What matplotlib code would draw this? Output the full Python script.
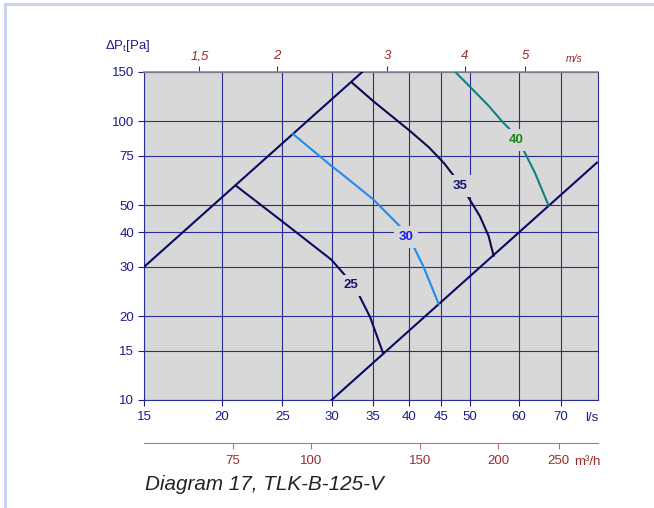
import numpy as np
import matplotlib.pyplot as plt
from matplotlib.lines import Line2D

plt.rcParams["font.family"] = ["Liberation Sans", "DejaVu Sans"]
plt.rcParams["mathtext.fontset"] = "custom"
plt.rcParams["mathtext.rm"] = "Liberation Sans"

# flow [l/s] -> pressure [Pa]
sys_hi_q = [15, 33.6]
sys_hi_p = [30, 150]
sys_lo_q = [30, 80]
sys_lo_p = [10, 71]

c25_q = [21.1, 25.1, 30.0, 31.7, 33.2, 34.6, 36.3]
c25_p = [58.5, 43.4, 31.8, 27.6, 23.8, 19.8, 14.7]
c30_q = [26.0, 30.0, 30.9, 35.0, 38.6, 40.7, 42.1, 44.6]
c30_p = [90.0, 69.0, 65.6, 52.4, 42.0, 35.2, 30.2, 22.0]
c35_q = [32.4, 35.0, 40.1, 43.0, 45.5, 47.4, 49.6, 51.9, 53.6, 54.6]
c35_p = [137.0, 117.9, 92.1, 80.5, 70.5, 62.6, 53.8, 45.6, 38.7, 32.9]
c40_q = [47.4, 50.0, 53.5, 56.6, 58.6, 60.9, 63.6, 66.9]
c40_p = [150.0, 133.0, 114.0, 98.6, 91.3, 79.2, 65.3, 49.8]

labels = ["25", "30", "35", "40"]
label_q = [32.2, 39.5, 48.2, 59.3]
label_p = [25.8, 38.4, 58.5, 85.5]

x_ticks = [15, 20, 25, 30, 35, 40, 45, 50, 60, 70]
y_ticks = [10, 15, 20, 30, 40, 50, 75, 100, 150]
v_ticks = [1.5, 2, 3, 4, 5]
v_labels = ["1,5", "2", "3", "4", "5"]
m3h_ticks = [75, 100, 150, 200, 250]

AREA = np.pi * 0.0625 ** 2  # duct 125 mm

navy = "#1c1c8c"
grid_c = "#2b2b96"
red = "#9a2a2a"
bg = "#d8d8d8"
fs = 9.5

fig = plt.figure(figsize=(6.54, 5.08), dpi=100)
ax = fig.add_axes([144 / 654, 1 - 400 / 508, 454 / 654, 328 / 508])
ax.set_facecolor(bg)
ax.set_xscale("log")
ax.set_yscale("log")
ax.set_xlim(15, 80.3)
ax.set_ylim(10, 150)

ax.set_xticks(x_ticks, [str(t) for t in x_ticks])
ax.set_yticks(y_ticks, [str(t) for t in y_ticks])
ax.minorticks_off()
ax.grid(True, color=grid_c, lw=0.8)
ax.tick_params(axis="both", colors=navy, labelsize=fs, length=4, width=0.8)
ax.tick_params(axis="x", pad=4)
ax.tick_params(axis="y", pad=3)
for s in ["left", "bottom", "right"]:
    ax.spines[s].set_color(grid_c)
ax.spines["top"].set_color("#8a8a8a")
ax.spines["top"].set_linewidth(1.2)

ax.plot(sys_hi_q, sys_hi_p, color="#0a0a66", lw=1.5, zorder=3)
ax.plot(sys_lo_q, sys_lo_p, color="#0a0a66", lw=1.5, zorder=3)
ax.plot(c25_q, c25_p, color="#0a0a66", lw=1.5, zorder=3)
ax.plot(c30_q, c30_p, color="#1e8cf0", lw=1.5, zorder=3)
ax.plot(c35_q, c35_p, color="#0a0a50", lw=1.5, zorder=3)
ax.plot(c40_q, c40_p, color="#138080", lw=1.5, zorder=3)

label_colors = ["#141470", "#1a1aff", "#141470", "#1a8a1a"]
for t, q, p, c in zip(labels, label_q, label_p, label_colors):
    ax.text(q, p, t, color=c, fontsize=fs, fontweight="bold", ha="center",
            va="center", zorder=4,
            bbox=dict(boxstyle="square,pad=0.35", fc=bg, ec="none"))

# velocity axis on top
top = ax.secondary_xaxis("top", functions=(lambda q: q / 1000 / AREA,
                                           lambda v: v * AREA * 1000))
top.set_xticks(v_ticks, v_labels)
top.xaxis.set_minor_locator(plt.NullLocator())
top.tick_params(colors=grid_c, labelcolor=red, labelsize=fs, length=4, pad=3)
for lab in top.get_xticklabels():
    lab.set_fontstyle("italic")
top.spines["top"].set_visible(False)

# m3/h axis below
low = ax.secondary_xaxis(-0.131, functions=(lambda q: q * 3.6,
                                            lambda m: m / 3.6))
low.set_xticks(m3h_ticks, [str(t) for t in m3h_ticks])
low.xaxis.set_minor_locator(plt.NullLocator())
low.tick_params(colors="#c07070", labelcolor=red, labelsize=fs, length=4, pad=5)
low.spines["bottom"].set_color("#c07070")

fig.text(128 / 654, 1 - 46 / 508, r"ΔP$_{\rm t}$[Pa]", color=navy,
         fontsize=fs, ha="center", va="center")
fig.text(574 / 654, 1 - 59 / 508, "m/s", color=red, fontsize=7.5,
         style="italic", ha="center", va="center")
fig.text(592 / 654, 1 - 418 / 508, "l/s", color=navy, fontsize=fs,
         ha="center", va="center")
fig.text(587 / 654, 1 - 462 / 508, "m³/h", color=red, fontsize=fs,
         ha="center", va="center")
fig.text(145 / 654, 1 - 484 / 508, "Diagram 17, TLK-B-125-V", color="#222222",
         fontsize=14.9, style="italic", ha="left", va="center")

# frame lines at the figure edge
fig.add_artist(Line2D([5 / 654, 1], [1 - 4 / 508] * 2, color="#c9d3ec", lw=2.2))
fig.add_artist(Line2D([5 / 654] * 2, [0, 1 - 4 / 508], color="#c9d3ec", lw=2.2))

fig.savefig("out.png", dpi=100)
